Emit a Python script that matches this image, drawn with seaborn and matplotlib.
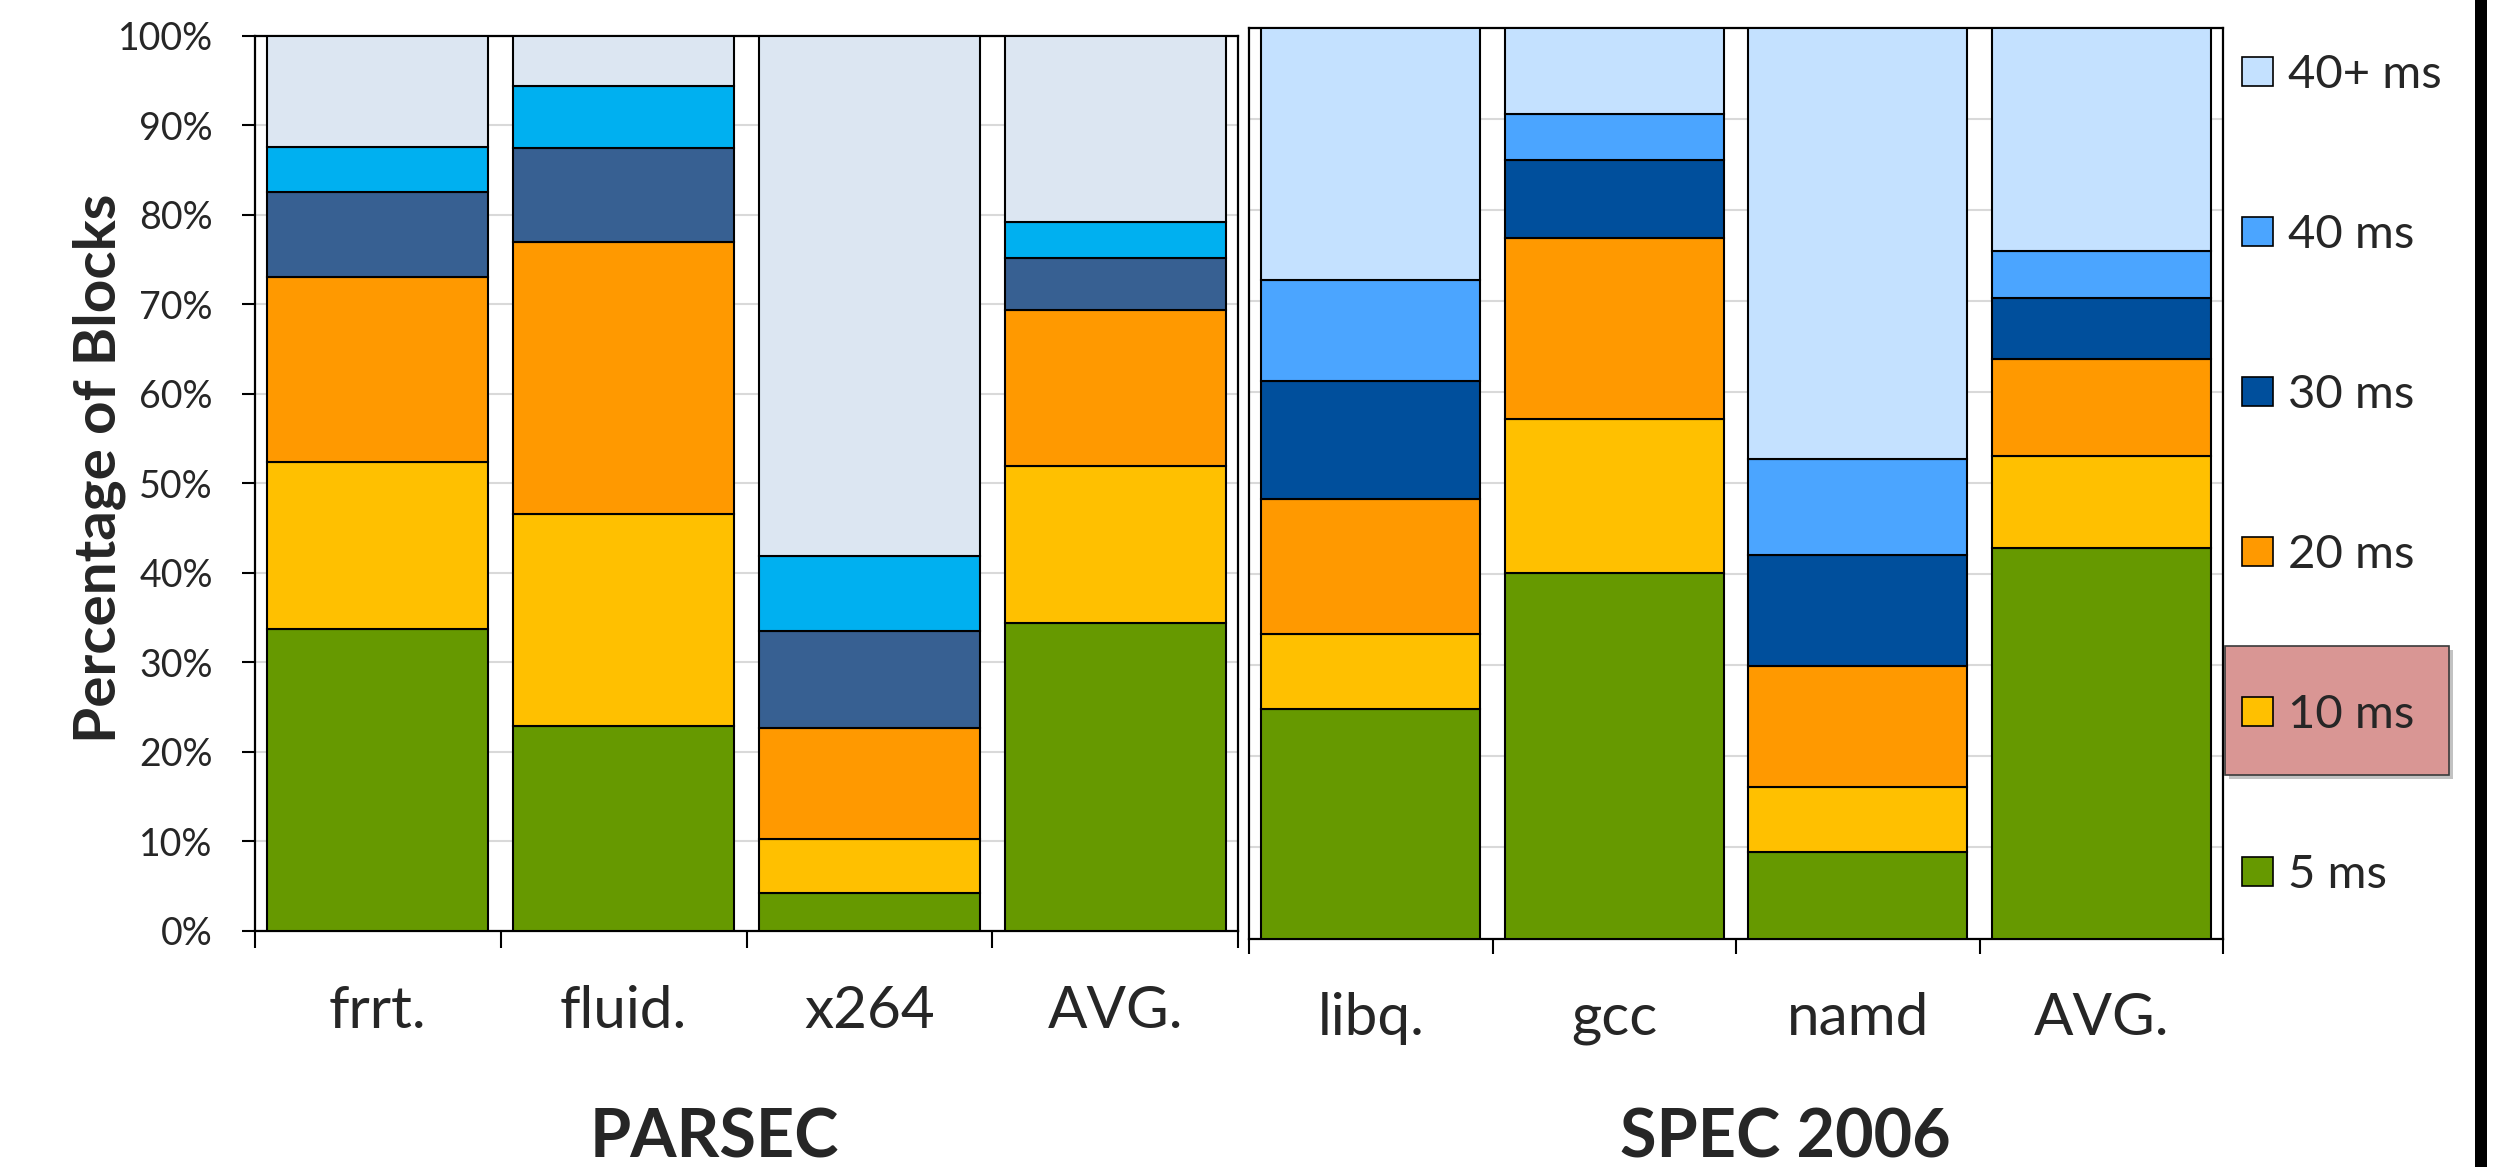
import numpy as np
import matplotlib
matplotlib.use("Agg")
import matplotlib.pyplot as plt
import seaborn as sns
from matplotlib.patches import Rectangle, Patch

# ---- data: percentage of blocks per refresh interval ----
intervals = ["5 ms", "10 ms", "20 ms", "30 ms", "40 ms", "40+ ms"]

parsec_benchmarks = ["frrt.", "fluid.", "x264", "AVG."]
parsec_5ms = [33.7, 22.9, 4.2, 34.4]
parsec_10ms = [18.7, 23.7, 6.0, 17.5]
parsec_20ms = [20.6, 30.4, 12.4, 17.4]
parsec_30ms = [9.5, 10.4, 10.9, 5.9]
parsec_40ms = [5.1, 7.0, 8.3, 4.0]
parsec_40plus = [12.4, 5.6, 58.2, 20.8]

spec_benchmarks = ["libq.", "gcc", "namd", "AVG."]
spec_5ms = [25.2, 40.2, 9.5, 42.9]
spec_10ms = [8.3, 16.9, 7.1, 10.1]
spec_20ms = [14.8, 19.9, 13.3, 10.7]
spec_30ms = [12.9, 8.5, 12.2, 6.7]
spec_40ms = [11.1, 5.1, 10.6, 5.1]
spec_40plus = [27.7, 9.4, 47.3, 24.5]

y_ticks = list(range(0, 101, 10))
y_tick_labels = [f"{v}%" for v in y_ticks]

parsec_colors = ["#669900", "#FFC000", "#FF9900", "#376092", "#00B0F0", "#DCE6F2"]
spec_colors = ["#669900", "#FFC000", "#FF9900", "#004F9C", "#4BA5FF", "#C4E1FF"]

sns.set_style("white")
plt.rcParams["font.family"] = ["Lato", "DejaVu Sans"]

W, H = 2494, 1167
fig = plt.figure(figsize=(W / 100, H / 100), dpi=100)


def px_axes(x0, x1, y_top, y_bot):
    return fig.add_axes([x0 / W, 1 - y_bot / H, (x1 - x0) / W, (y_bot - y_top) / H])


def draw_stack(ax, cats, layers, colors):
    bottom = np.zeros(len(cats))
    for vals, col in zip(layers, colors):
        sns.barplot(x=cats, y=vals, bottom=bottom.copy(), color=col, width=0.9,
                    saturation=1, edgecolor="black", linewidth=1.5,
                    errorbar=None, ax=ax, zorder=3)
        bottom += np.asarray(vals)


def style_axes(ax, cats, show_y, label_pad, minor_len):
    ax.set_xlim(-0.5, len(cats) - 0.5)
    ax.set_ylim(0, 100)
    ax.set_xlabel("")
    ax.set_ylabel("")
    ax.set_yticks(y_ticks)
    ax.yaxis.grid(True, color="#D9D9D9", linewidth=1.5)
    ax.xaxis.grid(False)
    ax.set_axisbelow(True)
    ax.set_xticks(range(len(cats)))
    ax.set_xticklabels(cats, fontsize=42)
    ax.set_xticks(np.arange(-0.5, len(cats)), minor=True)
    ax.tick_params(axis="x", which="major", length=0, pad=label_pad)
    ax.tick_params(axis="x", which="minor", length=minor_len, width=1.5,
                   direction="out", color="black", bottom=True)
    if show_y:
        ax.set_yticklabels(y_tick_labels, fontsize=27)
        ax.tick_params(axis="y", length=9.5, width=1.5, direction="out",
                       color="black", pad=21, left=True)
    else:
        ax.set_yticklabels([])
        ax.tick_params(axis="y", length=0)
    for sp in ax.spines.values():
        sp.set_visible(True)
        sp.set_color("black")
        sp.set_linewidth(1.6)


ax_l = px_axes(255, 1238, 35.7, 930.5)
draw_stack(ax_l, parsec_benchmarks,
           [parsec_5ms, parsec_10ms, parsec_20ms, parsec_30ms, parsec_40ms, parsec_40plus],
           parsec_colors)
style_axes(ax_l, parsec_benchmarks, True, 39, 12)

ax_r = px_axes(1249, 2223, 28.3, 938.5)
draw_stack(ax_r, spec_benchmarks,
           [spec_5ms, spec_10ms, spec_20ms, spec_30ms, spec_40ms, spec_40plus],
           spec_colors)
style_axes(ax_r, spec_benchmarks, False, 38.5, 11)

# axis title and suite names
fig.text(99 / W, 1 - 468 / H, "Percentage of Blocks", rotation=90, ha="center",
         va="center", fontsize=42, fontweight="bold")
fig.text(714 / W, 1 - 1157 / H, "PARSEC", ha="center", va="baseline",
         fontsize=48, fontweight="bold")
fig.text(1785 / W, 1 - 1157 / H, "SPEC 2006", ha="center", va="baseline",
         fontsize=48, fontweight="bold")

# highlight behind the 10 ms legend entry
fig.add_artist(Rectangle(((2225 + 4) / W, 1 - (775 + 4) / H), 224 / W, 129 / H,
                         transform=fig.transFigure, facecolor="#9a9a9a",
                         edgecolor="none", alpha=0.6, zorder=1))
fig.add_artist(Rectangle((2225 / W, 1 - 775 / H), 224 / W, 129 / H,
                         transform=fig.transFigure, facecolor="#D99694",
                         edgecolor="#3a3a3a", linewidth=1.2, zorder=2))

# legend, longest interval on top
handles = [Patch(facecolor=c, edgecolor="black", linewidth=1.2, label=l)
           for l, c in zip(intervals[::-1], spec_colors[::-1])]
leg = fig.legend(handles=handles, loc="upper left",
                 bbox_to_anchor=(2242 / W, 1 - 54 / H), frameon=False,
                 fontsize=34, handlelength=0.66, handleheight=0.59,
                 handletextpad=0.32, labelspacing=2.5, borderpad=0,
                 borderaxespad=0)
leg.set_zorder(5)

# black edge strip at the right of the figure
fig.add_artist(Rectangle((2475 / W, 0), 12 / W, 1, transform=fig.transFigure,
                         facecolor="black", edgecolor="none", zorder=3))

fig.savefig("out.png", dpi=100)
